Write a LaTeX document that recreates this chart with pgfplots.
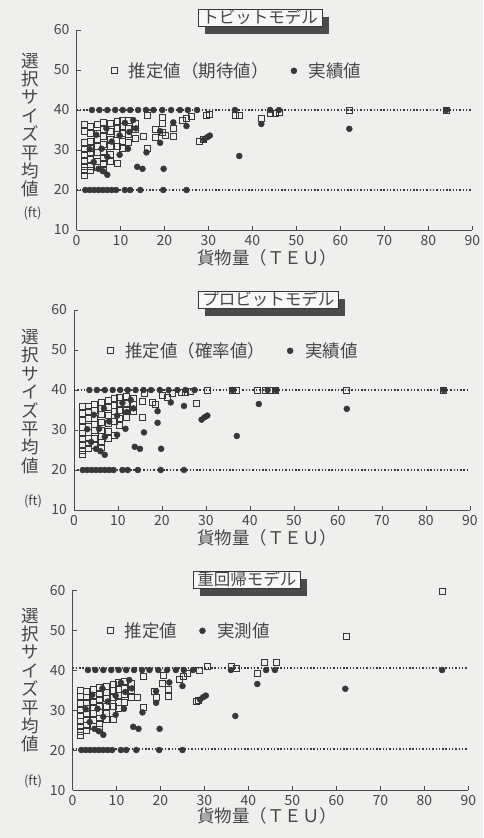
\documentclass[border=0pt]{standalone}
\usepackage{fontspec}
\setmainfont{Noto Sans CJK JP}
\usepackage{pgfplots}
\pgfplotsset{compat=1.18}
\usepackage{pgfplotstable}
\usetikzlibrary{shadows}
\definecolor{bgc}{RGB}{239,239,237}
\definecolor{mk}{RGB}{55,55,55}
\definecolor{txt}{RGB}{70,70,70}
\definecolor{axc}{RGB}{75,75,75}
\definecolor{boxf}{RGB}{248,248,246}
\newcommand\ticfont{\fontsize{14}{14}\selectfont}
\newcommand\legfont{\fontsize{17.5}{17.5}\selectfont}
\newcommand\titfont{\fontsize{16.5}{16.5}\selectfont}
\newcommand\ylfont{\fontsize{17.5}{18.4}\selectfont}
\newcommand\ftfont{\fontsize{13}{13}\selectfont}

% actual values (same in all panels)
\pgfplotstableread{
x y
3.5 40
5.2 40
7.0 40
8.8 40
10.5 40
12.2 40
14.0 40
15.8 40
17.5 40
19.5 40
21.5 40
23.5 40
25.3 40
27.4 40
36 40
44 40
46 40
84 40
2 20
3 20
4 20
5 20
6 20
7 20
8 20
9 20
11 20
12.2 20
14.5 20
19.7 20
25 20
3 30.2
3.9 27
4.5 33.8
5 25.3
5.7 30.3
6 24.7
7 23.8
6.8 35.4
7 28.3
8 32.1
9.8 28.8
9.8 33.6
11 36.8
11.7 30.3
12 34.5
12.9 37.5
13.5 35.4
13.8 25.8
15 25.3
15.9 29.4
19 34.7
19 31.8
19.8 25.3
22 36.9
25 36
29 32.6
29.7 33.2
30.3 33.6
37 28.5
42 36.5
62 35.3
}\act

% tobit estimates
\pgfplotstableread{
x y
1.8 36.3
1.8 34.7
1.8 31.8
1.8 30.1
1.8 28.9
1.8 27.2
1.8 26
1.8 24.8
1.8 23.7
3.2 35.9
3.2 34.2
3.2 32.2
3.2 30.5
3.2 29.3
3.2 27.7
3.2 26
3.2 24.8
4.7 36.3
4.7 34.2
4.7 32.6
4.7 30.9
4.7 29.3
4.7 27.2
4.7 25.6
6.2 36.9
6.2 35.1
6.2 33.4
6.2 31.4
6.2 29.3
6.2 28.1
6.2 26.4
6.2 25.2
7.7 36.7
7.7 34.7
7.7 32.6
7.7 30.9
7.7 28.9
7.7 27.2
9.2 37.1
9.2 35.5
9.2 33.8
9.2 30.9
9.2 26.7
10.4 37.5
10.4 35.9
10.4 34.2
10.4 32.2
10.4 30.5
11.9 37.5
11.9 35.5
11.9 33.8
11.9 31.8
13.4 36.7
13.4 35.1
13.4 33
15.3 33.5
16 38.6
16 30.4
18 35.2
18 33.2
19.5 38.2
19.5 36.7
19.5 34.5
20.2 33.6
22 35.4
22 33.4
24 37.3
25 37.9
26 38.3
28 32.1
28.8 32.6
29.5 38.6
30.2 39
36 38.6
37 38.6
42 37.9
44 39.2
45.3 39.2
46 39.3
62 39.8
84 40
}\tob

% probit estimates
\pgfplotstableread{
x y
1.8 35.8
1.8 34.2
1.8 32.4
1.8 30.6
1.8 29.2
1.8 27.8
1.8 26.2
1.8 25
1.8 24
3.2 36
3.2 34.6
3.2 32.8
3.2 31
3.2 29.4
3.2 28
3.2 26.6
3.2 25.4
4.7 36.5
4.7 34.8
4.7 33
4.7 31.4
4.7 29.8
4.7 27.8
4.7 26.2
6.2 37
6.2 35.4
6.2 33.8
6.2 32
6.2 30
6.2 28.4
6.2 26.8
6.2 25.6
7.7 37.4
7.7 35.6
7.7 33.6
7.7 31.6
7.7 29.6
7.7 28
9.2 37.8
9.2 36.2
9.2 34.6
9.2 32.2
9.2 28.6
10.4 38.2
10.4 36.6
10.4 35
10.4 33
10.4 31.2
11.9 38.4
11.9 36.6
11.9 35
11.9 33.2
13.4 38
13.4 36.4
13.4 34.6
15.5 33.2
15.5 37.2
16.1 39.2
17.8 36.8
18.6 36.5
20 38.75
21.2 38.2
22.3 39.2
24.5 39.4
25.4 39.4
26.5 39.6
27.7 36.7
30.3 40
36 40
37 40
41.7 40
43.6 40
44.7 40
45.8 40
62 40
84 40
}\pro

% regression estimates
\pgfplotstableread{
x y
1.8 35
1.8 33.5
1.8 31.6
1.8 30
1.8 28.6
1.8 27.2
1.8 25.8
1.8 24.6
1.8 23.6
3.2 34.6
3.2 33.2
3.2 31.8
3.2 30.4
3.2 29
3.2 27.6
3.2 26.2
3.2 25
4.7 35.2
4.7 33.6
4.7 32
4.7 30.6
4.7 29.2
4.7 27.4
4.7 25.8
6.2 35.6
6.2 34
6.2 32.6
6.2 31
6.2 29.4
6.2 28
6.2 26.6
6.2 25.2
7.7 36
7.7 34.4
7.7 32.8
7.7 31
7.7 29.2
7.7 27.6
9.2 36.4
9.2 34.8
9.2 33.2
9.2 31
9.2 27.6
10.4 36.8
10.4 35.2
10.4 33.6
10.4 32
10.4 30.4
11.9 37.2
11.9 35.4
11.9 33.8
11.9 32
13.4 36.6
13.4 35
13.4 33.2
14.7 33.2
16 38.3
16 30.7
18.7 34.7
19.1 33.2
20.4 36.7
20.6 38.6
21.7 35.25
21.7 33.3
24.4 37.75
25.1 38.3
26 39.2
28.1 32.2
28.7 32.5
28.9 39.8
30.6 40.8
36.1 40.8
37.2 40.5
42.1 39.25
43.6 41.9
46.3 41.9
62.2 48.3
84.1 59.7
}\reg

\pgfplotsset{
  panel/.style={
    scale only axis, width=396pt, height=200pt,
    xmin=0, xmax=90, ymin=10, ymax=60,
    axis lines=left, axis line style={-, line width=0.9pt, draw=axc},
    xtick={0,10,...,90}, ytick={10,20,...,60},
    major tick style={draw=axc, line width=0.8pt}, major tick length=4pt,
    tick align=inside,
    ticklabel style={font=\ticfont, text=txt},
    xticklabel style={inner sep=0pt, yshift=-5pt},
    yticklabel style={inner sep=0pt, xshift=-7pt},
    /pgf/number format/assume math mode=true,
    clip=false,
    legend columns=2,
    legend cell align=left,
    legend image code/.code={\draw[##1] plot coordinates {(3pt,0pt)};},
    legend style={draw=none, fill=none, font=\legfont, text=txt, anchor=west,
      nodes={inner sep=0pt},
      /tikz/every odd column/.append style={column sep=12pt},
      /tikz/every even column/.append style={column sep=22pt}},
  },
  sq/.style={only marks, mark=square, mark size=3pt, mark options={draw=mk, line width=0.75pt, fill=none}},
  dt/.style={only marks, mark=*, mark size=3pt, mark options={draw=mk, fill=mk}},
  dl/.style={forget plot, draw=mk, line width=1.5pt, dash pattern=on 1.4pt off 1.9pt},
}
\tikzset{
  tbox/.style={anchor=south west, draw=mk, line width=0.8pt, fill=boxf, font=\titfont, text=txt,
    inner xsep=4pt, inner ysep=0pt, text height=14pt, text depth=3pt,
    drop shadow={shadow xshift=7pt, shadow yshift=-7pt, fill=mk!90, opacity=1}},
}

\begin{document}
\begin{tikzpicture}
\path[fill=bgc, use as bounding box] (0,0) rectangle (483pt,-838pt);

% ---------- panel 1 ----------
\begin{axis}[panel, at={(76.5pt,-230pt)}, anchor=south west,
  legend style={at={(axis cs:7.1,49.8)}}]
\addplot[dl] coordinates {(0,40) (90,40)};
\addplot[dl] coordinates {(0,20) (90,20)};
\addplot[sq] table {\tob};
\addlegendentry{推定値（期待値）}
\addplot[dt] table {\act};
\addlegendentry{実績値}
\end{axis}
\node[tbox] at (198pt,-27pt) {トビットモデル};
\node[font=\ylfont, text=txt, align=center, inner sep=0pt] at (30pt,-125pt) {選\\択\\サ\\イ\\ズ\\平\\均\\値};
\node[font=\ftfont, text=txt, inner sep=0pt] at (32.5pt,-213pt) {(ft)};
\node[font=\legfont, text=txt, inner sep=0pt] at (267pt,-257.5pt) {貨物量（ＴＥＵ）};

% ---------- panel 2 ----------
\begin{axis}[panel, at={(74pt,-510pt)}, anchor=south west,
  legend style={at={(axis cs:6.8,49.8)}}]
\addplot[dl] coordinates {(0,40) (90,40)};
\addplot[dl] coordinates {(0,20) (90,20)};
\addplot[sq] table {\pro};
\addlegendentry{推定値（確率値）}
\addplot[dt] table {\act};
\addlegendentry{実績値}
\end{axis}
\node[tbox] at (198pt,-309pt) {プロビットモデル};
\node[font=\ylfont, text=txt, align=center, inner sep=0pt] at (30pt,-401.5pt) {選\\択\\サ\\イ\\ズ\\平\\均\\値};
\node[font=\ftfont, text=txt, inner sep=0pt] at (33pt,-501.5pt) {(ft)};
\node[font=\legfont, text=txt, inner sep=0pt] at (267pt,-537.5pt) {貨物量（ＴＥＵ）};

% ---------- panel 3 ----------
\begin{axis}[panel, at={(72.5pt,-790pt)}, anchor=south west,
  legend style={at={(axis cs:7.1,49.8)}}]
\addplot[dl] coordinates {(0,40.5) (90,40.5)};
\addplot[dl] coordinates {(0,20.3) (90,20.3)};
\addplot[sq] table {\reg};
\addlegendentry{推定値}
\addplot[dt] table {\act};
\addlegendentry{実測値}
\end{axis}
\node[tbox] at (193pt,-589pt) {重回帰モデル};
\node[font=\ylfont, text=txt, align=center, inner sep=0pt] at (30pt,-680pt) {選\\択\\サ\\イ\\ズ\\平\\均\\値};
\node[font=\ftfont, text=txt, inner sep=0pt] at (33pt,-781.5pt) {(ft)};
\node[font=\legfont, text=txt, inner sep=0pt] at (267pt,-816pt) {貨物量（ＴＥＵ）};
\end{tikzpicture}
\end{document}
